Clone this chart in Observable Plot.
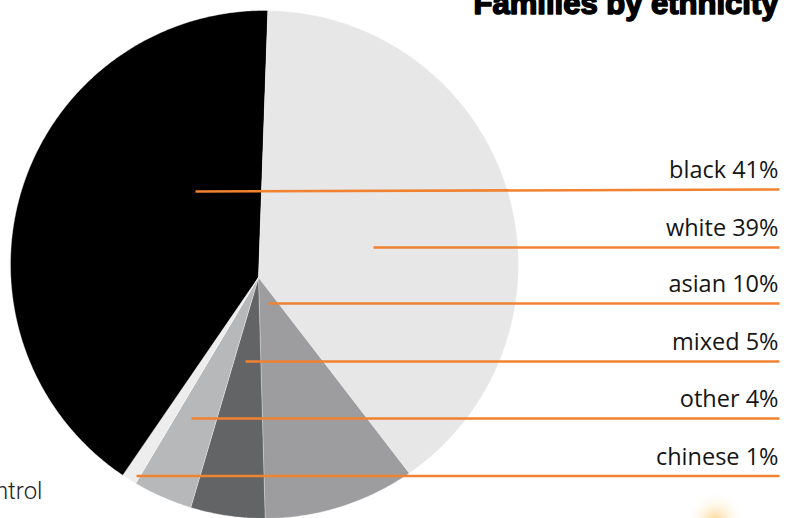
<!DOCTYPE html>
<html>
<head>
<meta charset="utf-8">
<script src="https://cdn.jsdelivr.net/npm/d3@7"></script>
<script src="https://cdn.jsdelivr.net/npm/@observablehq/plot@0.6"></script>
<style>
  html, body { margin: 0; padding: 0; background: #ffffff; overflow: hidden; }
  #chart svg { display: block; }
</style>
</head>
<body>
<div id="chart"></div>
<script>
// ---- data ----
const categories = ["black", "white", "asian", "mixed", "other", "chinese"];
const shares = [41, 39, 10, 5, 4, 1];
const sliceColors = ["#000000", "#e7e7e7", "#9d9d9f", "#636466", "#b7b8ba", "#ecedec"];
const titleText = "Families by ethnicity";
const sideText = "Control";

// ---- layout ----
const W = 796, H = 518;
const pie = { cx: 264, cy: 264, r: 254, ax: 258, ay: 277, start: -145.6 };
const leaderStartX = [195, 373, 268, 245, 191, 136];
const leaderStartY = [191, 247, 303, 361, 418, 475.5];
const leaderEndY = [189, 247, 303, 361, 418, 475.5];
const leaderEndX = 779;

// rim point of the circle reached from the apex along a bearing (deg, clockwise from up)
const wv = [pie.ax - pie.cx, pie.ay - pie.cy];
function rim(deg) {
  const t = deg * Math.PI / 180;
  const d = [Math.sin(t), -Math.cos(t)];
  const b = wv[0] * d[0] + wv[1] * d[1];
  const c = wv[0] ** 2 + wv[1] ** 2 - pie.r ** 2;
  const s = -b + Math.sqrt(b * b - c);
  return [pie.ax + s * d[0], pie.ay + s * d[1]];
}

const slicePts = [];
let acc = pie.start;
categories.forEach((cat, i) => {
  const a0 = acc, a1 = acc + shares[i] * 3.6;
  acc = a1;
  slicePts.push({ cat, x: pie.ax, y: pie.ay });
  const n = Math.max(2, Math.ceil((a1 - a0) / 0.5));
  for (let k = 0; k <= n; k++) {
    const [x, y] = rim(a0 + (a1 - a0) * k / n);
    slicePts.push({ cat, x, y });
  }
});

const leaders = categories.map((cat, i) => ({
  cat,
  x1: leaderStartX[i], y1: leaderStartY[i],
  x2: leaderEndX, y2: leaderEndY[i],
  label: `${cat} ${shares[i]}%`
}));

const plot = Plot.plot({
  width: W,
  height: H,
  margin: 0,
  x: { domain: [0, W], range: [0, W], axis: null },
  y: { domain: [0, H], range: [0, H], axis: null },
  color: { domain: categories, range: sliceColors },
  style: { background: "#ffffff", overflow: "hidden" },
  marks: [
    Plot.line(slicePts, {
      x: "x", y: "y", z: "cat", fill: "cat",
      stroke: "#ffffff", strokeWidth: 0.6, strokeOpacity: 0.6,
      curve: "linear-closed"
    }),
    Plot.link(leaders, {
      x1: "x1", y1: "y1", x2: "x2", y2: "y2",
      stroke: "#f08232", strokeWidth: 2.6
    }),
    Plot.text(leaders, {
      x: d => leaderEndX - 1,
      y: d => d.y2 - 11.5,
      text: "label",
      textAnchor: "end", lineAnchor: "bottom",
      fontFamily: "Open Sans", fontSize: 23.5, fill: "#151515"
    }),
    Plot.text([titleText], {
      x: d => 778, y: d => 13.5, text: d => d,
      textAnchor: "end", lineAnchor: "bottom",
      fontFamily: "Liberation Sans", fontWeight: "bold", fontSize: 31,
      fill: "#000000", stroke: "#000000", strokeWidth: 1.6
    }),
    Plot.text([sideText], {
      x: d => 42, y: d => 498, text: d => d,
      textAnchor: "end", lineAnchor: "bottom",
      fontFamily: "Roboto", fontWeight: 300, fontSize: 24, fill: "#222222"
    }),
    Plot.dot([0], {
      x: d => 715, y: d => 520, r: 30,
      fill: "url(#glow)", stroke: null
    })
  ]
});

// radial gradient for the faint glow in the corner
const ns = "http://www.w3.org/2000/svg";
const defs = document.createElementNS(ns, "defs");
defs.innerHTML = `<radialGradient id="glow" cx="50%" cy="50%" r="50%">
  <stop offset="0%" stop-color="#fbc36a" stop-opacity="0.75"/>
  <stop offset="45%" stop-color="#fde2ae" stop-opacity="0.4"/>
  <stop offset="100%" stop-color="#ffffff" stop-opacity="0"/>
</radialGradient>`;
plot.insertBefore(defs, plot.firstChild);

document.getElementById("chart").appendChild(plot);
</script>
</body>
</html>
